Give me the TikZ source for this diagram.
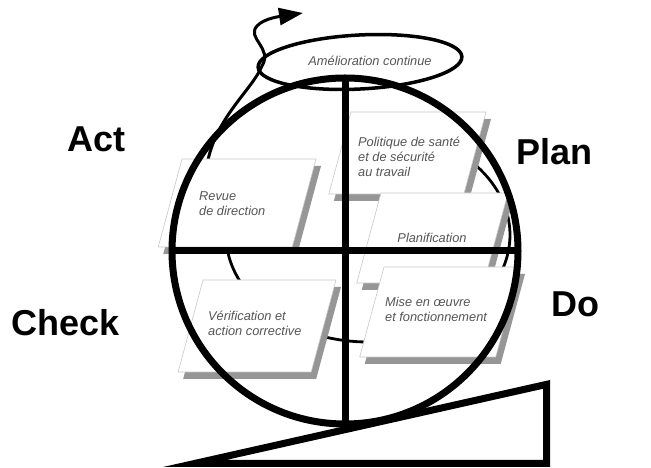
\documentclass[tikz,border=0pt]{standalone}
\usepackage{fontspec}
\setmainfont{Liberation Sans}
\usetikzlibrary{arrows.meta,calc}
\definecolor{txtgray}{RGB}{85,85,85}
\definecolor{shadowgray}{RGB}{150,150,150}
\definecolor{edgegray}{RGB}{200,200,200}
\newcommand\slantbox[4]{%
  \fill[shadowgray] (#1+5,#2-7) -- ++(#3,0) -- ++({-0.27*#4},{-#4}) -- ++(-#3,0) -- cycle;
  \filldraw[draw=edgegray, fill=white, line width=0.6pt] (#1,#2) -- ++(#3,0) -- ++({-0.27*#4},{-#4}) -- ++(-#3,0) -- cycle;}
\begin{document}
\begin{tikzpicture}[x=1pt,y=1pt,
  boxtext/.style={font=\fontsize{12.8}{15}\selectfont\itshape, text=txtgray, align=left, inner sep=0pt},
  bigtext/.style={font=\fontsize{36}{40}\selectfont\bfseries, inner sep=0pt},
  thick line/.style={line width=7pt},
  thin line/.style={line width=2.8pt}]
\useasboundingbox (0,0) rectangle (651,468);
% cycle ring behind boxes
\draw[thin line] plot[domain=160:415, samples=120] ({368+142*cos(\x)},{233+107*sin(\x)});
% improvement arrow
\draw[line width=3pt, -{Triangle[length=24pt,width=17pt]}] (207,303) .. controls (215,350) and (252,378) .. (262,402) .. controls (273,420) and (246,430) .. (257,442) .. controls (264,450) and (283,452) .. (303,455);
% boxes
\slantbox{351}{356}{135}{82}
\slantbox{381}{275}{127}{90}
\slantbox{384}{201}{136}{90}
\slantbox{182}{309}{134}{88}
\slantbox{203}{188}{133}{92}
% box texts
\node[boxtext, anchor=north west] (pol) at (358,331) {Politique de santé\\et de sécurité\\au travail};
\node[boxtext, anchor=center] (plan) at (432,230) {Planification};
\node[boxtext, anchor=north west] (mise) at (385,171) {Mise en œuvre\\et fonctionnement};
\node[boxtext, anchor=north west] (rev) at (199,277) {Revue\\de direction};
\node[boxtext, anchor=north west] (ver) at (208,157.5) {Vérification et\\action corrective};
% big circle with cross
\coordinate (ctr) at (345,217);
\draw[thick line] (ctr) circle[radius=173pt];
\draw[thick line] ($(ctr)+(0,173)$) -- ($(ctr)+(0,-173)$);
\draw[thick line] ($(ctr)+(-173,0)$) -- ($(ctr)+(173,0)$);
% amelioration ellipse
\draw[line width=3.5pt, rotate around={3:(360,406)}] (360,406) ellipse [x radius=102pt, y radius=27pt];
\node[boxtext, anchor=center] (amel) at (370,407) {Amélioration continue};
% wedge
\fill[black, even odd rule] (163,1) -- (550,1) -- (550,88) -- cycle (226,8) -- (543,8) -- (543,79.2) -- cycle;
% PDCA labels
\node[bigtext, anchor=base west] (act) at (67,316) {Act};
\node[bigtext, anchor=base west] (plan2) at (516,303) {Plan};
\node[bigtext, anchor=base west] (do) at (551,151) {Do};
\node[bigtext, anchor=base west] (check) at (11,132) {Check};
\end{tikzpicture}
\end{document}
